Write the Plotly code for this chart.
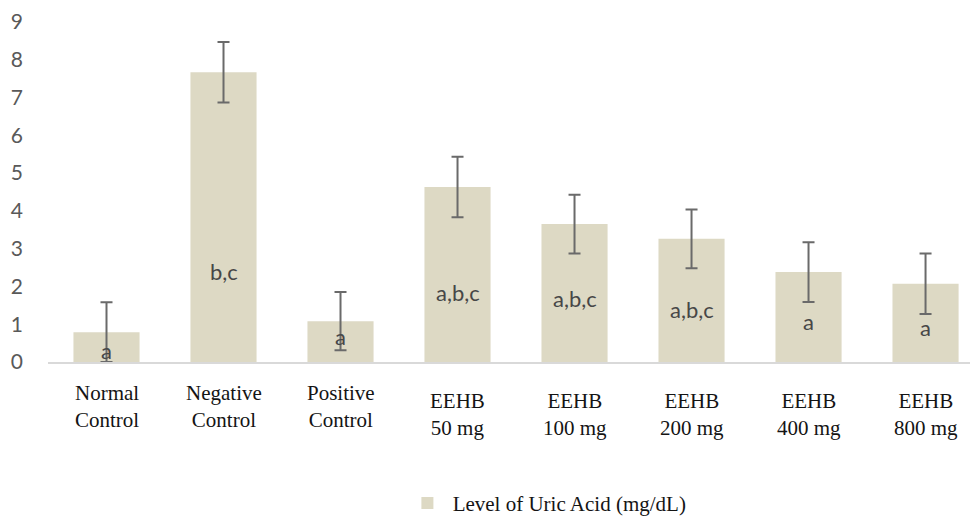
import plotly.graph_objects as go

# Serum uric acid per treatment group
groups = ["Normal Control", "Negative Control", "Positive Control",
          "EEHB 50 mg", "EEHB 100 mg", "EEHB 200 mg", "EEHB 400 mg", "EEHB 800 mg"]
tick_text = ["Normal<br>Control", "Negative<br>Control", "Positive<br>Control",
             "EEHB<br>50 mg", "EEHB<br>100 mg", "EEHB<br>200 mg", "EEHB<br>400 mg", "EEHB<br>800 mg"]
uric_acid = [0.79, 7.67, 1.08, 4.63, 3.65, 3.26, 2.38, 2.07]
uric_acid_sd = [0.79, 0.80, 0.77, 0.80, 0.78, 0.78, 0.79, 0.80]
significance = ["a", "b,c", "a", "a,b,c", "a,b,c", "a,b,c", "a", "a"]
y_ticks = list(range(0, 10))

# vertical placement of the significance letters inside each bar (data units)
letter_y = [0.30, 2.39, 0.67, 1.84, 1.69, 1.38, 1.07, 0.91]
# extra downward shift (px) of the two-line category captions
caption_shift = [0, 0, 0, 8, 8, 8, 8, 8]

BAR = "#DDD9C4"
SANS = "Lato, Open Sans, sans-serif"
SERIF = "Liberation Serif, serif"

fig = go.Figure()
fig.add_trace(go.Bar(
    x=groups,
    y=uric_acid,
    name="&nbsp;Level of Uric Acid (mg/dL)",
    marker=dict(color=BAR, line=dict(width=0)),
    error_y=dict(type="data", array=uric_acid_sd, visible=True,
                 color="#6A6A6A", thickness=2, width=6),
    width=0.565,
    hoverinfo="skip",
))

# significance letters
for g, s, ly in zip(groups, significance, letter_y):
    fig.add_annotation(x=g, y=ly, xref="x", yref="y", text=s, showarrow=False,
                       font=dict(family=SANS, size=22, color="#474747"),
                       xanchor="center", yanchor="middle")

# category captions
for g, t, dy in zip(groups, tick_text, caption_shift):
    fig.add_annotation(x=g, y=0, xref="x", yref="paper", text=t, showarrow=False,
                       font=dict(family=SERIF, size=21, color="#141414"),
                       xanchor="center", yanchor="middle", yshift=-44 - dy)

fig.update_layout(
    width=970, height=519,
    margin=dict(l=48, r=0, t=22, b=157),
    paper_bgcolor="white", plot_bgcolor="white",
    bargap=0.435,
    showlegend=True,
    legend=dict(orientation="h", xref="container", yref="container",
                x=0.42, y=0.03, xanchor="left", yanchor="middle",
                font=dict(family=SERIF, size=21, color="#141414"),
                bgcolor="rgba(0,0,0,0)"),
    xaxis=dict(range=[-0.5, 7.38], showticklabels=False, showgrid=False,
               zeroline=False, showline=True, linecolor="#D9D9D9", linewidth=1.5,
               ticks="", fixedrange=True),
    yaxis=dict(range=[0, 9], tickvals=y_ticks, showgrid=False, zeroline=False,
               showline=False, ticks="", ticklabelstandoff=24,
               tickfont=dict(family=SANS, size=21, color="#595959"),
               fixedrange=True),
)

fig.write_html("out.html")
